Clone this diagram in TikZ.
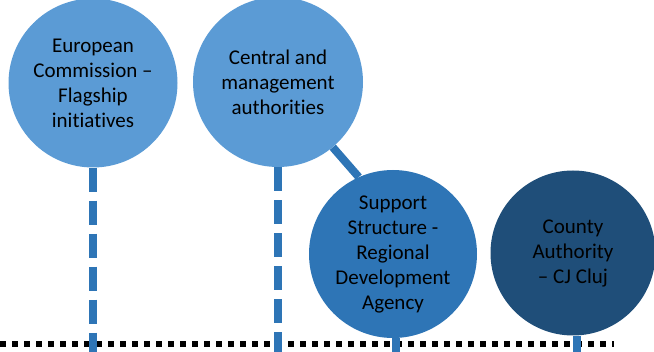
\documentclass[tikz,border=0pt]{standalone}
\usepackage{fontspec}
\setmainfont{Carlito}[Ligatures=NoCommon]
\usetikzlibrary{backgrounds}
\definecolor{lightblue}{HTML}{5B9BD5}
\definecolor{midblue}{HTML}{2E75B6}
\definecolor{darkblue}{HTML}{1F4E79}
\begin{document}
\begin{tikzpicture}[x=1pt,y=-1pt,
  bubble/.style={circle, inner sep=0pt, align=center, text=black,
    font=\fontsize{21}{25}\selectfont},
  stemline/.style={draw=midblue, line width=8.5pt, dash pattern=on 24pt off 9pt},
  baseline dots/.style={draw=black, line width=6pt, dash pattern=on 6pt off 6pt},
  link/.style={draw=midblue, line width=8pt}]
\useasboundingbox (0,0) rectangle (654,352);
\coordinate (dl) at (0,344);
\coordinate (dr) at (614,344);
\coordinate (base) at (0,352);
\node[bubble, fill=lightblue, minimum size=169pt] (c1) at (93,83) {European\\Commission –\\Flagship\\initiatives};
\node[bubble, fill=lightblue, minimum size=170pt] (c2) at (278,82) {Central and\\management\\authorities};
\node[bubble, fill=midblue, minimum size=168pt] (c3) at (393,254) {Support\\Structure -\\Regional\\Development\\Agency};
\node[bubble, fill=darkblue, minimum size=165pt] (c4) at (573,253) {County\\Authority\\– CJ Cluj};
\begin{scope}[on background layer]
\draw[baseline dots] (dl) -- (dr);
\draw[link] (c2.-50) -- (c3.114);
\end{scope}
\draw[stemline] (c1.south) -- (c1.south |- base);
\draw[stemline] (c2.south) -- (c2.south |- base);
\draw[stemline] ([xshift=3pt]c3.south) -- ([xshift=3pt]c3.south |- base);
\draw[stemline] ([xshift=4pt]c4.south) -- ([xshift=4pt]c4.south |- base);
\end{tikzpicture}
\end{document}
